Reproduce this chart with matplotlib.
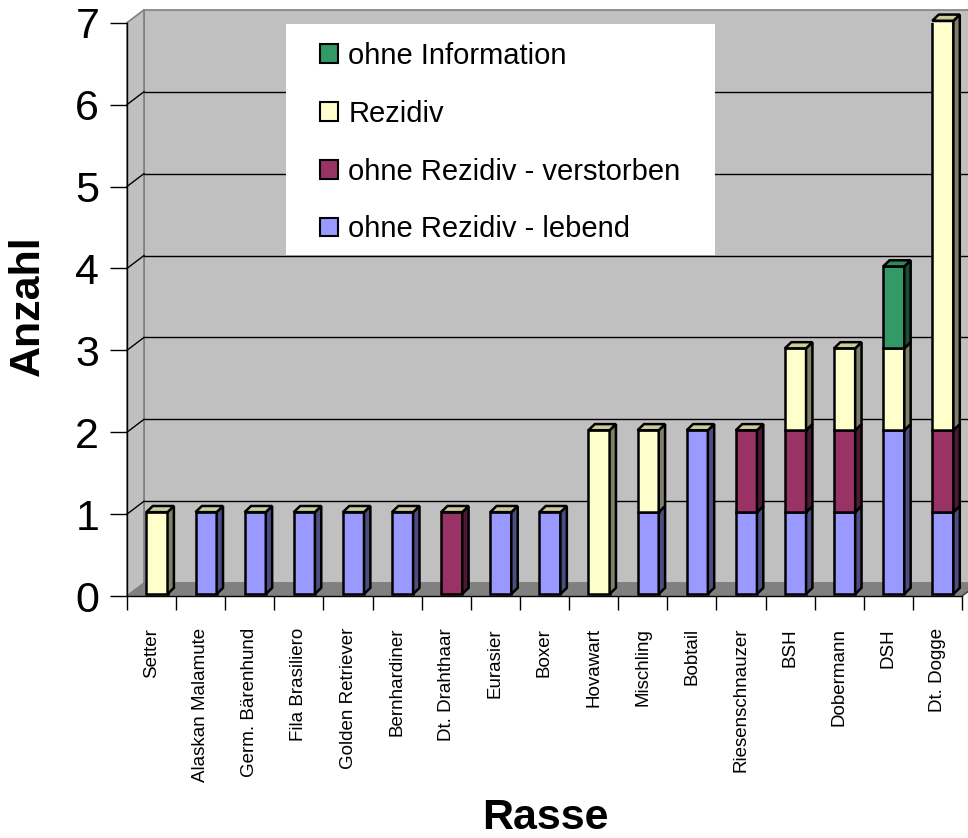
import numpy as np
import matplotlib.pyplot as plt
from matplotlib.patches import Polygon, Rectangle, Patch

plt.rcParams['font.family'] = ['Liberation Sans', 'DejaVu Sans']

rassen = ["Setter", "Alaskan Malamute", "Germ. Bärenhund", "Fila Brasiliero",
          "Golden Retriever", "Bernhardiner", "Dt. Drahthaar", "Eurasier", "Boxer",
          "Hovawart", "Mischling", "Bobtail", "Riesenschnauzer", "BSH", "Dobermann",
          "DSH", "Dt. Dogge"]

lebend     = [0, 1, 1, 1, 1, 1, 0, 1, 1, 0, 1, 2, 1, 1, 1, 2, 1]
verstorben = [0, 0, 0, 0, 0, 0, 1, 0, 0, 0, 0, 0, 1, 1, 1, 0, 1]
rezidiv    = [1, 0, 0, 0, 0, 0, 0, 0, 0, 2, 1, 0, 0, 1, 1, 1, 5]
ohne_info  = [0, 0, 0, 0, 0, 0, 0, 0, 0, 0, 0, 0, 0, 0, 0, 1, 0]

# (label, values, front, side, top) in stacking order
serien = [
    ("ohne Rezidiv - lebend", lebend, "#9999FF", "#4D4D80", "#CCCC99"),
    ("ohne Rezidiv - verstorben", verstorben, "#993366", "#4D1A33", "#CCCC99"),
    ("Rezidiv", rezidiv, "#FFFFCC", "#808066", "#CCCC99"),
    ("ohne Information", ohne_info, "#339966", "#1A4D33", "#2E8A5C"),
]

# depth of the wall/floor and of the bars (data units)
DX, DY = 0.346, 0.157
SX, SY = 0.13, 0.075
BX0, W, BY = -0.105, 0.43, 0.024

fig = plt.figure(figsize=(9.68, 8.38), dpi=100)
ax = fig.add_axes([127 / 968, 1 - 596 / 838, 835 / 968, 573.3 / 838])
ax.set_xlim(-0.5, 16.5)
ax.set_ylim(0, 7)
ax.patch.set_visible(False)
for s in ("top", "right"):
    ax.spines[s].set_visible(False)
for s in ("left", "bottom"):
    ax.spines[s].set_color("black")
    ax.spines[s].set_linewidth(1)
    ax.spines[s].set_zorder(6)

n = len(rassen)
x0, x1 = -0.5, n - 0.5

# walls and floor
wall_kw = dict(closed=True, facecolor="#C0C0C0", edgecolor="#808080", lw=1.2,
               clip_on=False, zorder=0)
ax.add_patch(Polygon([(x0 + DX, DY), (x1 + DX, DY), (x1 + DX, 7 + DY), (x0 + DX, 7 + DY)], **wall_kw))
ax.add_patch(Polygon([(x0, 0), (x0 + DX, DY), (x0 + DX, 7 + DY), (x0, 7)], **wall_kw))
ax.add_patch(Polygon([(x0, 0), (x1, 0), (x1 + DX, DY), (x0 + DX, DY)], closed=True,
                     facecolor="#808080", edgecolor="#808080", lw=1, clip_on=False, zorder=0.2))
for k in range(1, 7):
    ax.plot([x0 + DX, x1 + DX], [k + DY, k + DY], color="black", lw=1, clip_on=False, zorder=0.5)
    ax.plot([x0, x0 + DX], [k, k + DY], color="black", lw=1, clip_on=False, zorder=0.5)
ax.plot([x1, x1 + DX], [0, DY], color="#404040", lw=1, clip_on=False, zorder=0.5)

# stacked 3d bars
x = np.arange(n)
bottom = np.zeros(n)
total = np.sum([s[1] for s in serien], axis=0)
for label, vals, front, side, top in serien:
    vals = np.array(vals, dtype=float)
    idx = np.nonzero(vals)[0]
    ax.bar(x[idx] + BX0 + W / 2, vals[idx], width=W, bottom=bottom[idx] + BY,
           color=front, edgecolor="black", lw=1.8, zorder=3)
    for i in idx:
        xl = i + BX0
        xr = xl + W
        b = bottom[i] + BY
        t = b + vals[i]
        ax.add_patch(Polygon([(xr, b), (xr + SX, b + SY), (xr + SX, t + SY), (xr, t)],
                             closed=True, facecolor=side, edgecolor="black", lw=1.8,
                             clip_on=False, zorder=3))
        if bottom[i] + vals[i] == total[i]:
            ax.add_patch(Polygon([(xl, t), (xr, t), (xr + SX, t + SY), (xl + SX, t + SY)],
                                 closed=True, facecolor=top, edgecolor="black", lw=1.8,
                                 clip_on=False, zorder=3))
    bottom += vals

# axes ticks
ax.set_yticks(range(8))
ax.tick_params(axis="y", length=12, width=1, pad=8, labelsize=31, direction="out")
ax.set_xticks(np.arange(x0, x1 + 0.1, 1.0))
ax.set_xticklabels([])
ax.tick_params(axis="x", which="major", length=10, width=1, direction="out")
ax.set_xticks(x, minor=True)
ax.set_xticklabels(rassen, minor=True, rotation=90, fontsize=13.5)
ax.tick_params(axis="x", which="minor", length=0, pad=23)

# legend box
ax.add_patch(Rectangle((0.1904, 0.5948), 0.5136, 0.4029, transform=ax.transAxes,
                       facecolor="white", edgecolor="none", zorder=4))
handles = [Patch(facecolor=s[2], edgecolor="black", lw=1.5) for s in serien[::-1]]
labels = [s[0] for s in serien[::-1]]
fig.legend(handles, labels, loc="upper left", bbox_to_anchor=(320 / 968, 1 - 42 / 838),
           frameon=False, fontsize=21, handlelength=0.62, handleheight=0.62,
           handletextpad=0.35, labelspacing=1.02, borderpad=0, borderaxespad=0)

fig.text(28 / 968, 1 - 306 / 838, "Anzahl", rotation=90, ha="center", va="center",
         fontsize=31, fontweight="bold")
fig.text(545 / 968, 1 - 818 / 838, "Rasse", ha="center", va="center",
         fontsize=31, fontweight="bold")

fig.savefig("out.png", dpi=100)
